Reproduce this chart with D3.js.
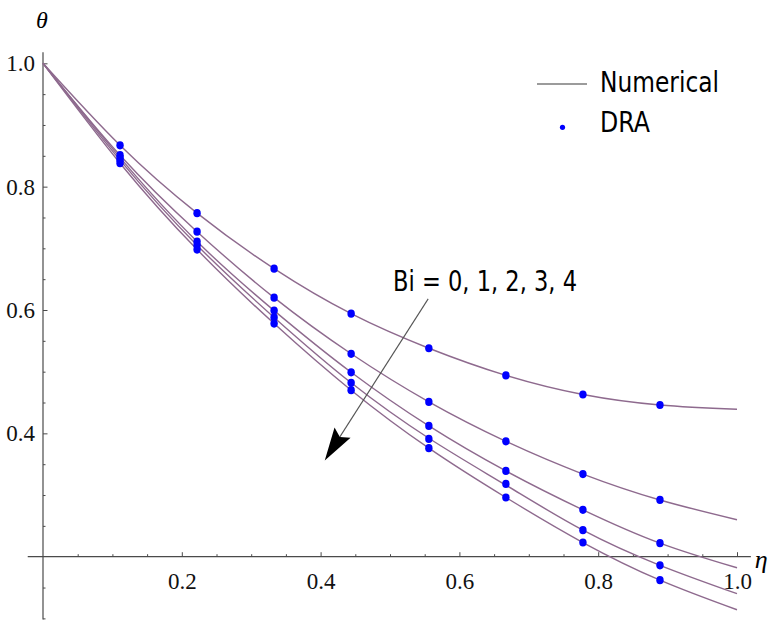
<!DOCTYPE html>
<html><head><meta charset="utf-8">
<script src="https://cdn.jsdelivr.net/npm/d3@7"></script>
<style>html,body{margin:0;padding:0;background:#fff;}svg{display:block;}</style>
</head><body>
<svg id="chart" width="777" height="620"></svg>
<script>
// ---- data ----
const etaNum = [0, 0.111, 0.222, 0.333, 0.444, 0.556, 0.667, 0.778, 0.889, 1.0];
const etaDRA = [0.111, 0.222, 0.333, 0.444, 0.556, 0.667, 0.778, 0.889];
const biLabels = ["0", "1", "2", "3", "4"];
const numBi0 = [1.0, 0.867, 0.757, 0.667, 0.594, 0.538, 0.494, 0.463, 0.446, 0.439];
const numBi1 = [1.0, 0.851, 0.727, 0.620, 0.529, 0.451, 0.387, 0.334, 0.292, 0.260];
const numBi2 = [1.0, 0.847, 0.711, 0.599, 0.499, 0.412, 0.339, 0.276, 0.222, 0.182];
const numBi3 = [1.0, 0.843, 0.705, 0.588, 0.482, 0.392, 0.316, 0.243, 0.186, 0.140];
const numBi4 = [1.0, 0.838, 0.698, 0.578, 0.470, 0.376, 0.296, 0.223, 0.162, 0.114];
const draBi0 = [0.867, 0.757, 0.667, 0.594, 0.538, 0.494, 0.463, 0.446];
const draBi1 = [0.851, 0.727, 0.620, 0.529, 0.451, 0.387, 0.334, 0.292];
const draBi2 = [0.847, 0.711, 0.599, 0.499, 0.412, 0.339, 0.276, 0.222];
const draBi3 = [0.843, 0.705, 0.588, 0.482, 0.391, 0.318, 0.243, 0.186];
const draBi4 = [0.838, 0.698, 0.578, 0.470, 0.376, 0.296, 0.223, 0.162];
const xTicks = [0.2, 0.4, 0.6, 0.8, 1.0];
const yTicks = [0.4, 0.6, 0.8, 1.0];
const xMinor = [0.05,0.1,0.15,0.25,0.3,0.35,0.45,0.5,0.55,0.65,0.7,0.75,0.85,0.9,0.95];
const yMinor = [0.1,0.15,0.25,0.3,0.35,0.45,0.5,0.55,0.65,0.7,0.75,0.85,0.9,0.95];
const legendLabels = ["Numerical", "DRA"];
const annotationText = "Bi = 0, 1, 2, 3, 4";
const arrowFrom = {eta: 0.555, theta: 0.618};
const arrowTo = {eta: 0.406, theta: 0.356};

const numSeries = [numBi0, numBi1, numBi2, numBi3, numBi4];
const draSeries = [draBi0, draBi1, draBi2, draBi3, draBi4];

// ---- layout ----
const svg = d3.select("#chart");
const x = d3.scaleLinear().domain([0, 1]).range([43, 737]);
const y = d3.scaleLinear().domain([0.2, 1]).range([556.7, 63.3]);
const axisColor = "#4a4a4a";
const serif = "'Liberation Serif', 'DejaVu Serif', serif";
const hand = "'DejaVu Sans', 'Noto Sans', sans-serif";

// axes lines
svg.append("line").attr("x1", x(-0.022)).attr("x2", x(1.02))
  .attr("y1", y(0.2)).attr("y2", y(0.2)).attr("stroke", axisColor).attr("stroke-width", 1.2);
svg.append("line").attr("x1", x(0)).attr("x2", x(0))
  .attr("y1", y(1.018)).attr("y2", y(0.098)).attr("stroke", axisColor).attr("stroke-width", 1.2);

// x axis ticks
const gx = svg.append("g").attr("transform", `translate(0,${y(0.2)})`);
gx.call(d3.axisBottom(x).tickValues(xTicks).tickSize(-4.5).tickPadding(24).tickFormat(d3.format(".1f")));
const gxm = svg.append("g").attr("transform", `translate(0,${y(0.2)})`);
gxm.call(d3.axisBottom(x).tickValues(xMinor).tickSize(-2.5).tickFormat(""));
// y axis ticks
const gy = svg.append("g").attr("transform", `translate(${x(0)},0)`);
gy.call(d3.axisLeft(y).tickValues(yTicks).tickSize(-4.5).tickPadding(8).tickFormat(d3.format(".1f")));
const gym = svg.append("g").attr("transform", `translate(${x(0)},0)`);
gym.call(d3.axisLeft(y).tickValues(yMinor).tickSize(-2.5).tickFormat(""));

[gx, gxm, gy, gym].forEach(g => {
  g.select(".domain").remove();
  g.attr("font-family", null).attr("font-size", null);
  g.selectAll(".tick line").attr("stroke", axisColor).attr("stroke-width", 1);
  g.selectAll(".tick text").attr("fill", "#111")
    .attr("font-family", serif).attr("font-size", "23px");
});
gx.selectAll(".tick text").attr("dy", "0.35em");

// axis labels
svg.append("text").attr("x", x(0) - 1).attr("y", 28).attr("text-anchor", "middle")
  .attr("font-family", serif).attr("font-style", "italic").attr("font-size", "24px").text("θ");
svg.append("text").attr("x", x(1.035)).attr("y", y(0.2) + 11).attr("text-anchor", "middle")
  .attr("font-family", serif).attr("font-style", "italic").attr("font-size", "26px").text("η");

// numerical curves
const line = d3.line().x((d, i) => x(etaNum[i])).y(d => y(d)).curve(d3.curveNatural);
svg.append("g").selectAll("path").data(numSeries).join("path")
  .attr("d", d => line(d)).attr("fill", "none").attr("stroke", "#8e6a8e").attr("stroke-width", 1.4);

// DRA points
const pts = [];
draSeries.forEach((s, k) => s.forEach((v, i) => pts.push({eta: etaDRA[i], theta: v, bi: biLabels[k]})));
svg.append("g").selectAll("ellipse").data(pts).join("ellipse")
  .attr("cx", d => x(d.eta)).attr("cy", d => y(d.theta)).attr("rx", 3.7).attr("ry", 4.1)
  .attr("fill", "#0000ff");

// legend
const lg = svg.append("g");
lg.append("line").attr("x1", 537).attr("x2", 587).attr("y1", 84).attr("y2", 84)
  .attr("stroke", "#7a7a7a").attr("stroke-width", 1.5);
lg.append("circle").attr("cx", 562.5).attr("cy", 127.3).attr("r", 2.6).attr("fill", "#0000ff");
lg.selectAll("text").data(legendLabels).join("text")
  .attr("x", 600).attr("y", (d, i) => 92 + i * 40)
  .attr("textLength", (d, i) => i === 0 ? 119 : 50).attr("lengthAdjust", "spacingAndGlyphs")
  .attr("font-family", hand).attr("font-size", "29px").attr("fill", "#000").text(d => d);

// annotation
svg.append("text").attr("x", 393).attr("y", 291).attr("textLength", 184).attr("lengthAdjust", "spacingAndGlyphs")
  .attr("font-family", hand).attr("font-size", "29px").attr("fill", "#000").text(annotationText);

const ax0 = x(arrowFrom.eta), ay0 = y(arrowFrom.theta), ax1 = x(arrowTo.eta), ay1 = y(arrowTo.theta);
const dx = ax1 - ax0, dy = ay1 - ay0, L = Math.hypot(dx, dy), ux = dx / L, uy = dy / L;
const hl = 33, hw = 9.5, notch = 5;
svg.append("line").attr("x1", ax0).attr("y1", ay0).attr("x2", ax1 - ux * (hl - notch)).attr("y2", ay1 - uy * (hl - notch))
  .attr("stroke", "#555").attr("stroke-width", 1.1);
const bx = ax1 - ux * hl, by = ay1 - uy * hl;
const head = [[ax1, ay1], [bx - uy * hw, by + ux * hw], [ax1 - ux * (hl - notch), ay1 - uy * (hl - notch)], [bx + uy * hw, by - ux * hw]];
svg.append("path").attr("d", "M" + head.map(p => p.join(",")).join("L") + "Z").attr("fill", "#000");
</script>
</body></html>
